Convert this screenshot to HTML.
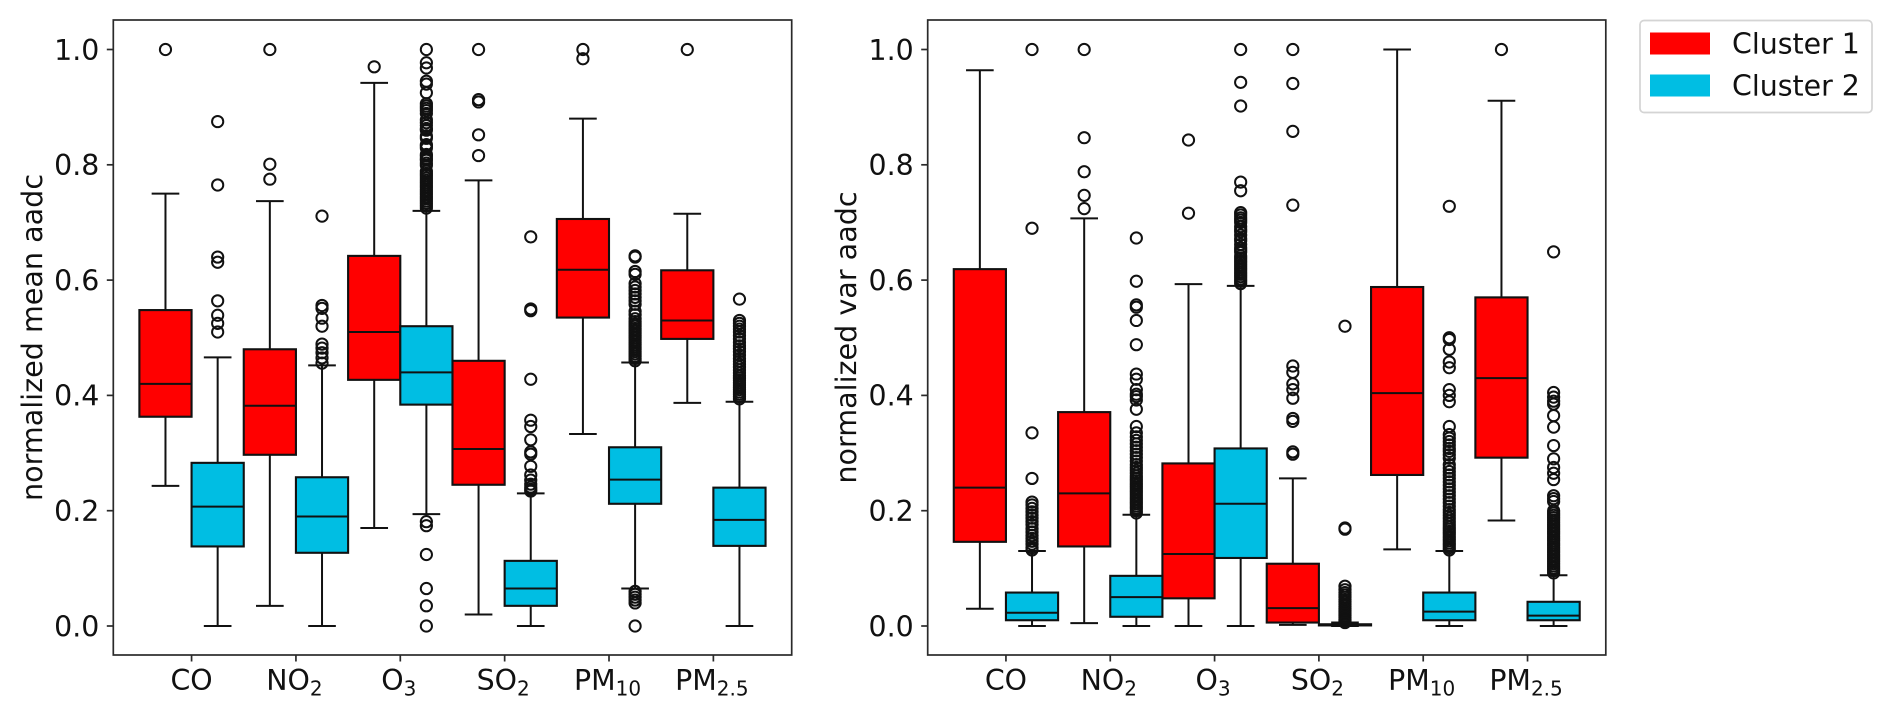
<!DOCTYPE html>
<html lang="en">
<head>
<meta charset="utf-8">
<title>Normalized aadc box plots by cluster</title>
<style>
html,body{margin:0;padding:0;background:#fff;}
svg{display:block;filter:blur(0.35px);}
text{font-family:"DejaVu Sans","Liberation Sans",sans-serif;fill:#111;}
</style>
</head>
<body>
<svg id="figure" xmlns="http://www.w3.org/2000/svg" width="1892" height="714" viewBox="0 0 1892 714">
  <rect x="0" y="0" width="1892" height="714" fill="#fff"/>
  <g id="panel-mean"></g>
  <g id="panel-var"></g>
  <text transform="translate(42 337.5) rotate(-90)" text-anchor="middle" font-size="28.6">normalized mean aadc</text>
  <text transform="translate(856 337.5) rotate(-90)" text-anchor="middle" font-size="28.6">normalized var aadc</text>
  <g>
    <rect x="1640" y="20.5" width="232" height="92" rx="4" fill="#fff" stroke="#d4d4d4" stroke-width="1.7"/>
    <rect x="1650" y="32.5" width="60" height="22" fill="#ff0000"/>
    <text x="1732" y="53.5" font-size="28.4">Cluster 1</text>
    <rect x="1650" y="74.5" width="60" height="22" fill="#00bee3"/>
    <text x="1732" y="95.5" font-size="28.4">Cluster 2</text>
  </g>
</svg>
<script>
const categoryNames = ['CO', 'NO', 'O', 'SO', 'PM', 'PM'];
const categorySubscripts = ['', '2', '3', '2', '10', '2.5'];
const yTickValues = [0, 0.2, 0.4, 0.6, 0.8, 1];
const yTickLabels = ['0.0', '0.2', '0.4', '0.6', '0.8', '1.0'];

// Each row: whisker low, q1, median, q3, whisker high; one row per category.
const meanCluster1Stats = [
  [0.243, 0.363, 0.420, 0.548, 0.750],
  [0.035, 0.297, 0.382, 0.480, 0.737],
  [0.170, 0.427, 0.510, 0.642, 0.942],
  [0.020, 0.245, 0.307, 0.460, 0.773],
  [0.333, 0.535, 0.618, 0.706, 0.880],
  [0.387, 0.498, 0.530, 0.617, 0.715]
];
const meanCluster2Stats = [
  [0.000, 0.138, 0.207, 0.283, 0.466],
  [0.000, 0.127, 0.190, 0.258, 0.452],
  [0.194, 0.384, 0.440, 0.520, 0.720],
  [0.000, 0.035, 0.065, 0.113, 0.230],
  [0.065, 0.212, 0.254, 0.310, 0.457],
  [0.000, 0.139, 0.184, 0.240, 0.389]
];
const varCluster1Stats = [
  [0.030, 0.146, 0.240, 0.619, 0.964],
  [0.005, 0.138, 0.230, 0.371, 0.707],
  [0.000, 0.048, 0.125, 0.282, 0.593],
  [0.002, 0.006, 0.031, 0.108, 0.256],
  [0.133, 0.262, 0.404, 0.588, 1.000],
  [0.183, 0.292, 0.430, 0.570, 0.911]
];
const varCluster2Stats = [
  [0.000, 0.010, 0.023, 0.058, 0.130],
  [0.000, 0.016, 0.050, 0.087, 0.193],
  [0.000, 0.118, 0.212, 0.308, 0.590],
  [0.000, 0.001, 0.002, 0.003, 0.006],
  [0.000, 0.010, 0.025, 0.058, 0.130],
  [0.000, 0.010, 0.018, 0.042, 0.088]
];

const meanCluster1Fliers = [
  [1.0],
  [1.0, 0.801, 0.775],
  [0.970],
  [1.0, 0.913, 0.909, 0.852, 0.816],
  [1.0, 0.984],
  [1.0]
];
const meanCluster2Fliers = [
  [0.875, 0.765, 0.640, 0.631, 0.564, 0.539, 0.525, 0.510],
  [0.711, 0.556, 0.551, 0.534, 0.520, 0.489, 0.482, 0.474, 0.465, 0.456],
  [1.0, 0.977, 0.968, 0.945, 0.940, 0.925, 0.906, 0.902, 0.898, 0.894, 0.889, 0.878, 0.873, 0.868, 0.863, 0.860, 0.850, 0.846, 0.835, 0.832, 0.829, 0.818, 0.815, 0.811, 0.808, 0.803, 0.799, 0.789, 0.785, 0.781, 0.777, 0.773, 0.769, 0.765, 0.761, 0.757, 0.753, 0.749, 0.745, 0.741, 0.737, 0.733, 0.729, 0.725, 0.181, 0.174, 0.124, 0.065, 0.035, 0.0],
  [0.675, 0.550, 0.547, 0.428, 0.357, 0.346, 0.323, 0.302, 0.298, 0.277, 0.262, 0.253, 0.246, 0.241, 0.237, 0.234],
  [0.642, 0.640, 0.615, 0.610, 0.594, 0.588, 0.582, 0.576, 0.570, 0.564, 0.558, 0.546, 0.540, 0.533, 0.528, 0.524, 0.520, 0.516, 0.512, 0.508, 0.504, 0.500, 0.496, 0.492, 0.488, 0.484, 0.480, 0.476, 0.472, 0.468, 0.464, 0.460, 0.060, 0.055, 0.050, 0.045, 0.040, 0.0],
  [0.567, 0.530, 0.525, 0.520, 0.515, 0.510, 0.504, 0.498, 0.492, 0.486, 0.481, 0.476, 0.470, 0.464, 0.459, 0.454, 0.449, 0.444, 0.439, 0.434, 0.430, 0.426, 0.422, 0.418, 0.414, 0.410, 0.406, 0.402, 0.398, 0.394]
];
const varCluster1Fliers = [
  [],
  [1.0, 0.847, 0.788, 0.747, 0.724],
  [0.843, 0.716],
  [1.0, 0.941, 0.858, 0.730, 0.451, 0.440, 0.420, 0.410, 0.395, 0.360, 0.355, 0.302, 0.298],
  [],
  [1.0]
];
const varCluster2Fliers = [
  [1.0, 0.690, 0.335, 0.256, 0.215, 0.210, 0.204, 0.198, 0.192, 0.187, 0.181, 0.176, 0.169, 0.163, 0.157, 0.152, 0.147, 0.142, 0.136, 0.132],
  [0.673, 0.598, 0.557, 0.553, 0.530, 0.488, 0.437, 0.428, 0.410, 0.402, 0.398, 0.392, 0.376, 0.346, 0.335, 0.328, 0.322, 0.316, 0.310, 0.304, 0.298, 0.292, 0.286, 0.280, 0.275, 0.270, 0.265, 0.260, 0.256, 0.252, 0.248, 0.244, 0.240, 0.236, 0.232, 0.228, 0.224, 0.220, 0.216, 0.212, 0.208, 0.204, 0.200, 0.196],
  [1.0, 0.943, 0.902, 0.770, 0.755, 0.717, 0.713, 0.708, 0.704, 0.700, 0.693, 0.688, 0.684, 0.678, 0.672, 0.668, 0.662, 0.656, 0.652, 0.648, 0.642, 0.638, 0.634, 0.630, 0.626, 0.622, 0.618, 0.614, 0.610, 0.606, 0.602, 0.598, 0.594],
  [0.520, 0.170, 0.168, 0.069, 0.063, 0.058, 0.054, 0.050, 0.046, 0.042, 0.038, 0.034, 0.030, 0.027, 0.024, 0.021, 0.018, 0.015, 0.012, 0.010, 0.008, 0.006],
  [0.728, 0.500, 0.497, 0.480, 0.458, 0.448, 0.410, 0.400, 0.389, 0.346, 0.332, 0.326, 0.320, 0.314, 0.308, 0.303, 0.297, 0.291, 0.280, 0.274, 0.268, 0.262, 0.256, 0.250, 0.244, 0.238, 0.232, 0.226, 0.220, 0.214, 0.208, 0.202, 0.197, 0.192, 0.187, 0.182, 0.177, 0.172, 0.168, 0.164, 0.160, 0.156, 0.152, 0.148, 0.144, 0.140, 0.136, 0.132],
  [0.649, 0.405, 0.397, 0.390, 0.385, 0.365, 0.345, 0.313, 0.290, 0.275, 0.265, 0.254, 0.226, 0.221, 0.216, 0.200, 0.196, 0.192, 0.188, 0.184, 0.180, 0.176, 0.172, 0.168, 0.164, 0.160, 0.156, 0.152, 0.148, 0.144, 0.140, 0.136, 0.132, 0.128, 0.124, 0.120, 0.116, 0.112, 0.108, 0.104, 0.100, 0.096, 0.092]
];

const clusterColors = ['#ff0000', '#00bee3'];
const SVG_NS = 'http://www.w3.org/2000/svg';
const INK = '#111';

function yScale(v) {
  return 626 - 576.5 * v;
}
function boxCenter(axes, groupIndex, seriesIndex) {
  return axes.left + (groupIndex * 2 + seriesIndex + 1) * axes.step;
}
function tickCenter(axes, groupIndex) {
  return axes.left + (groupIndex * 2 + 1.5) * axes.step;
}
function shape(parent, tag, attrs) {
  const node = document.createElementNS(SVG_NS, tag);
  for (const key in attrs) node.setAttribute(key, attrs[key]);
  parent.appendChild(node);
  return node;
}
function line(parent, x1, y1, x2, y2, width, color) {
  return shape(parent, 'line', { x1: x1, y1: y1, x2: x2, y2: y2, stroke: color, 'stroke-width': width });
}

function drawBoxes(group, axes, statsBySeries, prefix) {
  statsBySeries.forEach(function (stats, s) {
    stats.forEach(function (row, g) {
      const cx = boxCenter(axes, g, s);
      const hw = axes.step / 2;
      const box = shape(group, 'rect', {
        x: cx - hw,
        y: yScale(row[3]),
        width: hw * 2,
        height: Math.max(0.1, yScale(row[1]) - yScale(row[3])),
        fill: clusterColors[s],
        stroke: INK,
        'stroke-width': 2.1
      });
      
      
    });
  });
}

function drawLines(group, axes, statsBySeries, fliersBySeries, prefix) {
  statsBySeries.forEach(function (stats, s) {
    stats.forEach(function (row, g) {
      const cx = boxCenter(axes, g, s);
      const hw = axes.step / 2;
      const capHalf = axes.step * 0.265;
      const suffix = categoryNames[g].toLowerCase() + categorySubscripts[g].replace('.', '') + '-cluster-' + (s + 1);

      const median = line(group, cx - hw, yScale(row[2]), cx + hw, yScale(row[2]), 2, INK);
      
      

      const lowerWhisker = line(group, cx, yScale(row[1]), cx, yScale(row[0]), 2, INK);
      
      

      const upperWhisker = line(group, cx, yScale(row[3]), cx, yScale(row[4]), 2, INK);
      
      

      const lowerCap = line(group, cx - capHalf, yScale(row[0]), cx + capHalf, yScale(row[0]), 2, INK);
      
      

      const upperCap = line(group, cx - capHalf, yScale(row[4]), cx + capHalf, yScale(row[4]), 2, INK);
      
      

      fliersBySeries[s][g].forEach(function (value) {
        const dot = shape(group, 'circle', {
          cx: cx,
          cy: yScale(value),
          r: 5.6,
          fill: 'none',
          stroke: INK,
          'stroke-width': 2
        });
        
        
      });
    });
  });
}

function drawAxes(group, axes, prefix) {
  const frame = shape(group, 'rect', {
    x: axes.left,
    y: axes.top,
    width: axes.right - axes.left,
    height: axes.bottom - axes.top,
    fill: 'none',
    stroke: '#2a2a2a',
    'stroke-width': 1.7
  });
  
  

  yTickValues.forEach(function (value, i) {
    const y = yScale(value);
    const tick = line(group, axes.left - 6.5, y, axes.left, y, 1.7, '#2a2a2a');
    
    
    const label = shape(group, 'text', {
      x: axes.left - 14,
      y: y + 10.3,
      'text-anchor': 'end',
      'font-size': 28.4
    });
    label.textContent = yTickLabels[i];
    
    
  });

  categoryNames.forEach(function (name, i) {
    const x = tickCenter(axes, i);
    const tick = line(group, x, axes.bottom, x, axes.bottom + 6.5, 1.7, '#2a2a2a');
    
    
    const label = shape(group, 'text', {
      x: categorySubscripts[i] ? x - 1.5 : x,
      y: 690,
      'text-anchor': 'middle',
      'font-size': 28.4
    });
    
    
    const base = shape(label, 'tspan', {});
    base.textContent = name;
    if (categorySubscripts[i]) {
      const sub = shape(label, 'tspan', { dy: 5.5, 'font-size': 20 });
      sub.textContent = categorySubscripts[i];
    }
  });
}

const meanAxes = { left: 113.3, right: 791.7, top: 20, bottom: 655, step: 52.18 };
const varAxes = { left: 927.7, right: 1605.8, top: 20, bottom: 655, step: 52.16 };

function drawPanel(id, axes, statsBySeries, fliersBySeries, prefix) {
  const group = document.getElementById(id);
  drawBoxes(group, axes, statsBySeries, prefix);
  drawLines(group, axes, statsBySeries, fliersBySeries, prefix);
  drawAxes(group, axes, prefix);
}

drawPanel('panel-mean', meanAxes, [meanCluster1Stats, meanCluster2Stats], [meanCluster1Fliers, meanCluster2Fliers], 'mean');
drawPanel('panel-var', varAxes, [varCluster1Stats, varCluster2Stats], [varCluster1Fliers, varCluster2Fliers], 'var');
</script>
</body>
</html>
